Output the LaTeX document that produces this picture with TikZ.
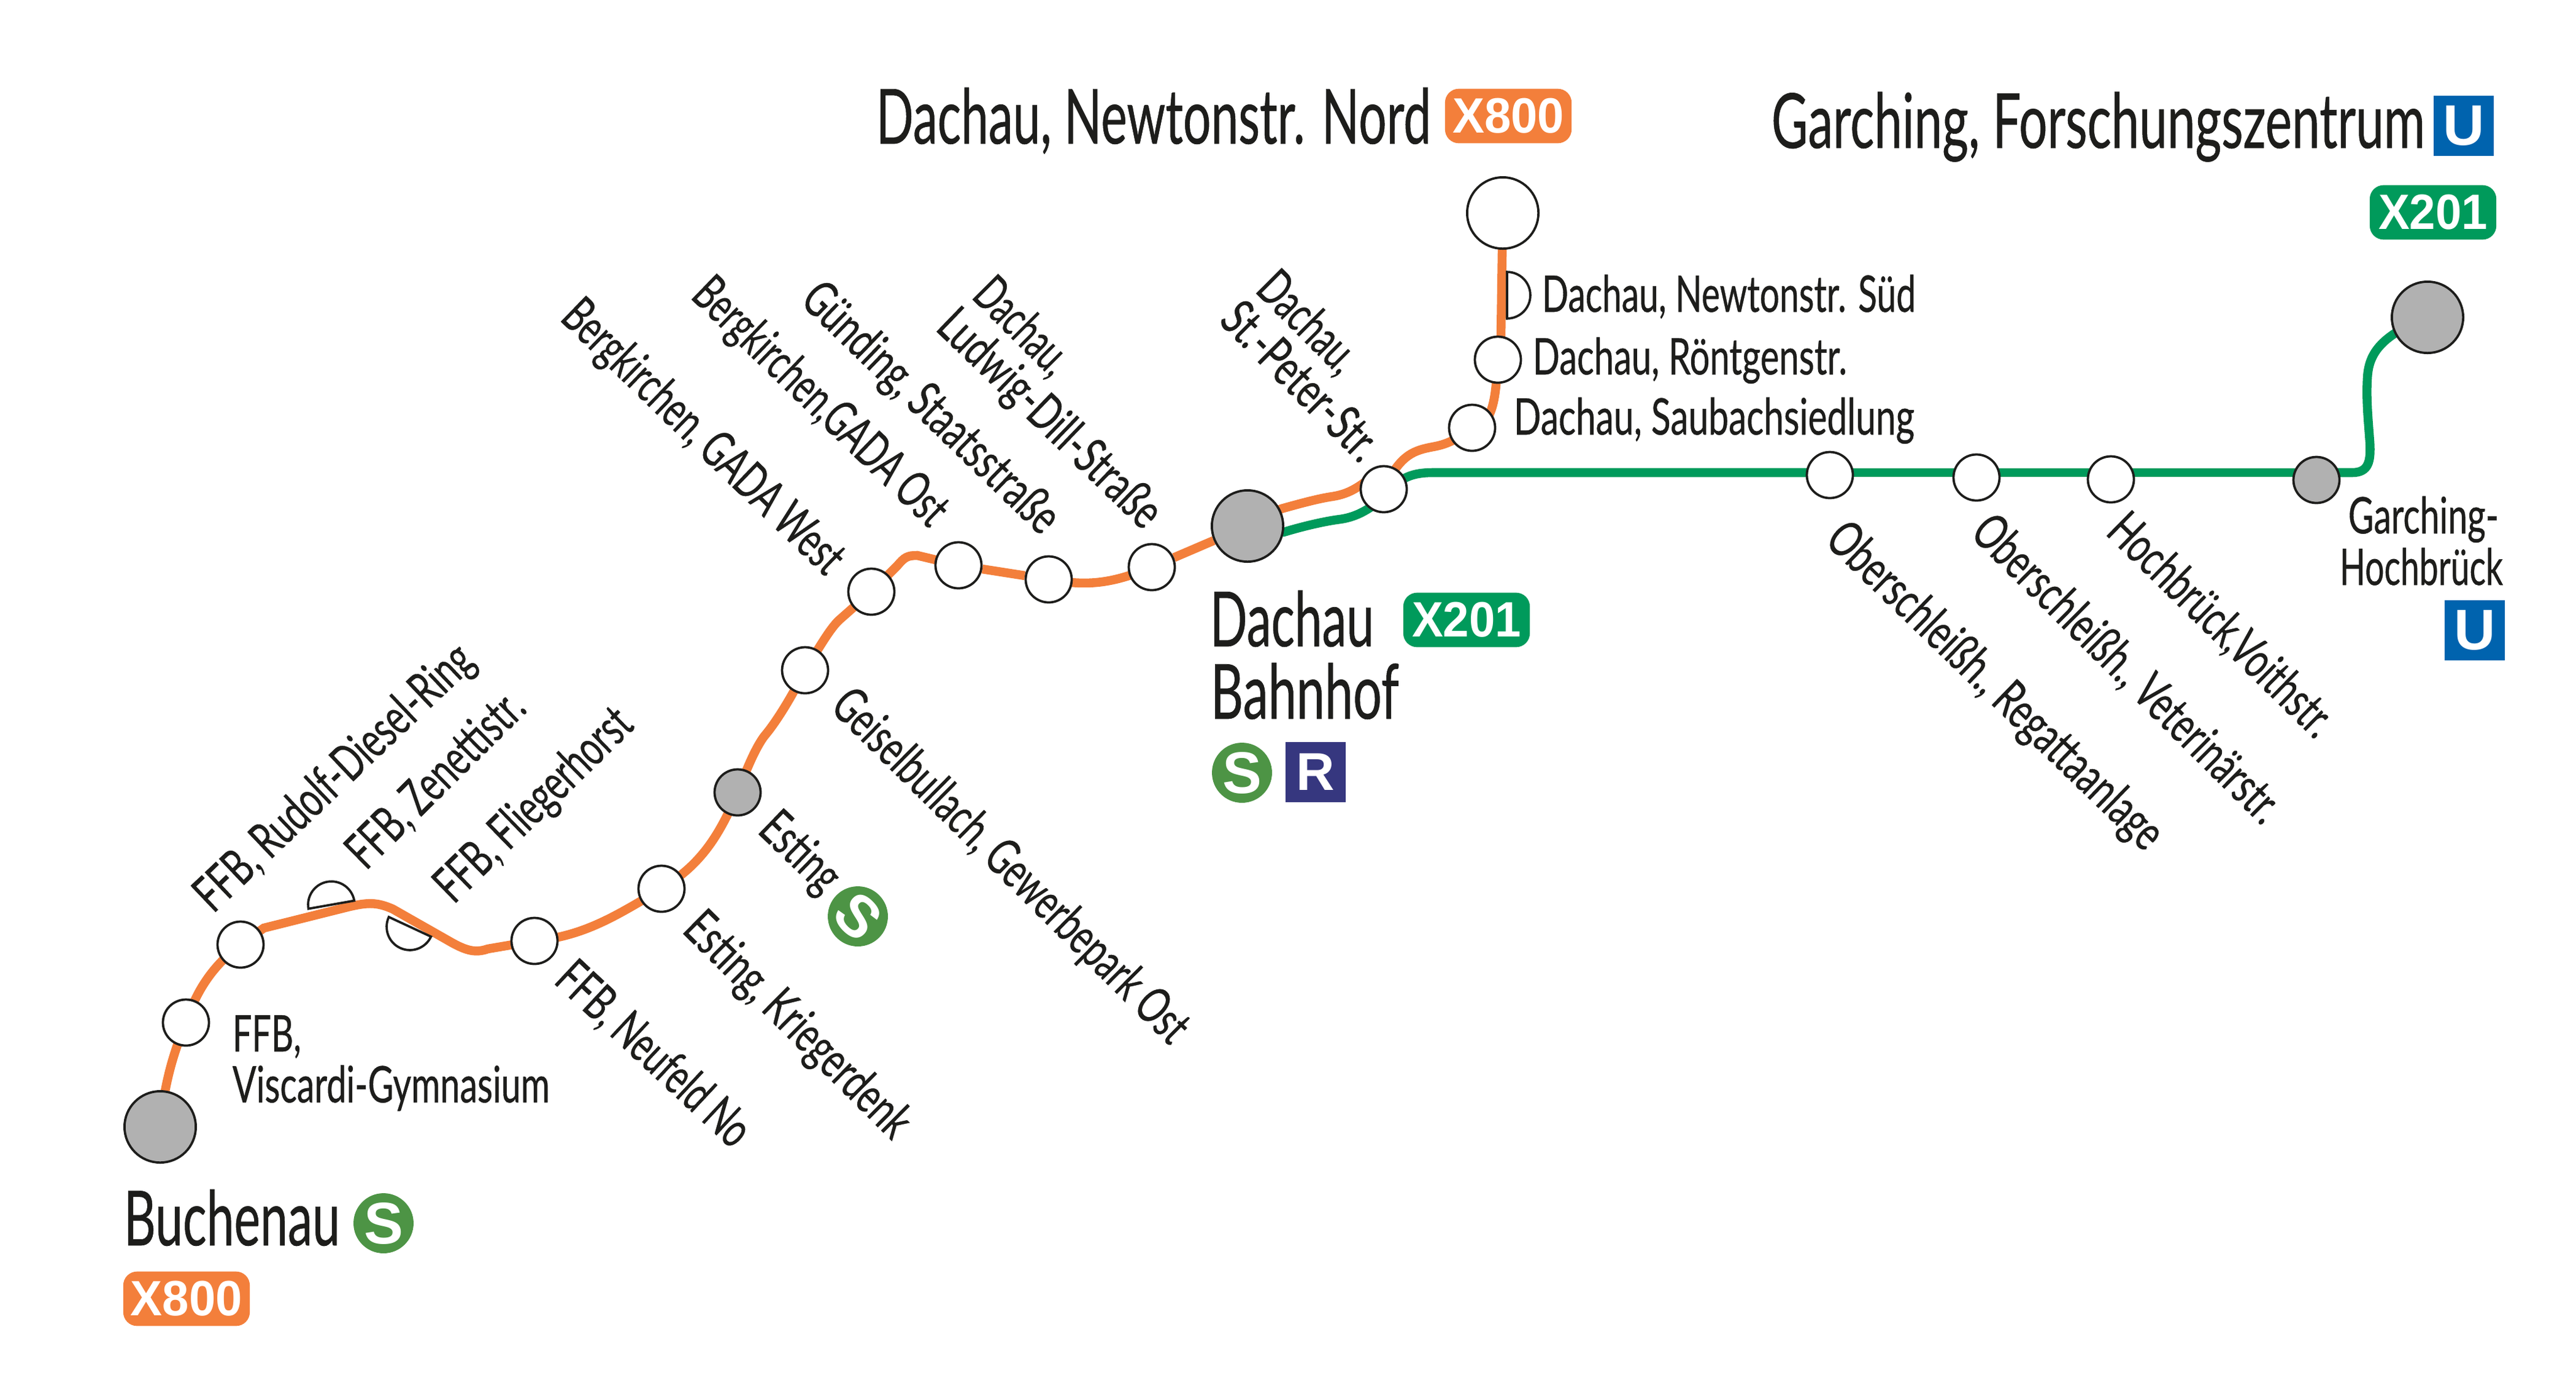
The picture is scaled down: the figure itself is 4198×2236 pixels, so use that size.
\documentclass[tikz,border=0pt]{standalone}
\usepackage{graphicx}
\usepackage{fontspec}
\setmainfont{Lato}[FakeBold=0.6]
\newfontfamily\badgefont{Liberation Sans}[BoldFont={Liberation Sans Bold}]
\usetikzlibrary{backgrounds}
\definecolor{lorange}{HTML}{F37F3B}
\definecolor{lgreen}{HTML}{009A5B}
\definecolor{sgreen}{HTML}{4D9445}
\definecolor{ublue}{HTML}{0063AE}
\definecolor{rblue}{HTML}{36377F}
\definecolor{stopgrey}{HTML}{B1B1B1}
\definecolor{ink}{HTML}{1D1D1B}
\newlength\pxu \setlength\pxu{0.24pt}
\tikzset{
  x=0.24pt,y=-0.24pt,
  stopw/.style={circle,draw=ink,fill=white,line width=0.9pt,inner sep=0pt,minimum size=18pt},
  stopg/.style={stopw,fill=stopgrey},
  termw/.style={stopw,minimum size=27.9pt},
  termg/.style={termw,fill=stopgrey},
  halfstop/.style={draw=ink,fill=white,line width=0.9pt},
  ol/.style={draw=lorange,line width=3.5pt},
  gl/.style={draw=lgreen,line width=3.5pt},
  lab/.style={anchor=base west,inner sep=0pt,text=ink,font=\fontsize{19.7pt}{20pt}\selectfont},
  bigl/.style={lab,font=\fontsize{29.7pt}{30pt}\selectfont},
  badge/.style={rectangle,rounded corners=5.4pt,inner sep=0pt,minimum width=49.5pt,minimum height=21.3pt,text=white,font=\badgefont\bfseries\fontsize{19.4pt}{20pt}\selectfont},
  xo/.style={badge,fill=lorange},
  xg/.style={badge,fill=lgreen},
  sbadge/.style={circle,fill=sgreen,inner sep=0pt,minimum size=23.5pt,text=white,font=\badgefont\bfseries\fontsize{23pt}{24pt}\selectfont},
  ubadge/.style={rectangle,fill=ublue,inner sep=0pt,minimum size=23.5pt,text=white,font=\badgefont\bfseries\fontsize{22.4pt}{23pt}\selectfont},
  rbadge/.style={rectangle,fill=rblue,inner sep=0pt,minimum size=23.5pt,text=white,font=\badgefont\bfseries\fontsize{20.8pt}{21pt}\selectfont},
}
\newcommand{\lbl}[7][lab]{\node[#1,rotate=#5] (#2) at (#3,#4) {\resizebox{#6\pxu}{\height}{#7}};}
\newcommand{\bdgtext}[2]{\resizebox{#1\pxu}{\height}{#2}}
\begin{document}
\begin{tikzpicture}
\useasboundingbox (0,0) rectangle (4198,2236);
% stops
\node[termg] (buch) at (261,1836) {};
\node[stopw] (visc) at (303,1666) {};
\node[stopw] (rudo) at (392,1539) {};
\coordinate (zene) at (540,1474);
\coordinate (flie) at (668,1510);
\node[stopw] (neuf) at (871,1533) {};
\node[stopw] (krie) at (1078,1448) {};
\node[stopg] (esti) at (1202,1291) {};
\node[stopw] (geis) at (1312,1092) {};
\node[stopw] (west) at (1420,964) {};
\node[stopw] (ost) at (1562,921) {};
\node[stopw] (guen) at (1709,944) {};
\node[stopw] (ludw) at (1877,924) {};
\node[termg] (dbf) at (2033,857) {};
\node[stopw] (spet) at (2255,797) {};
\node[stopw] (saub) at (2399,697) {};
\node[stopw] (roen) at (2441,586) {};
\coordinate (nsue) at (2456,481);
\node[termw] (nnor) at (2449,347) {};
\node[stopw] (rega) at (2982,774) {};
\node[stopw] (vete) at (3221,778) {};
\node[stopw] (voit) at (3440,781) {};
\node[stopg] (ghoc) at (3775,782) {};
\node[termg] (gfor) at (3956,517) {};
\coordinate (gy) at (0,770);
% half stops
\draw[halfstop] ([shift={(10:9.1pt)}]zene) arc[start angle=10,end angle=190,radius=9.1pt] -- cycle;
\draw[halfstop] ([shift={(155:9.1pt)}]flie) arc[start angle=155,end angle=335,radius=9.1pt] -- cycle;
\draw[halfstop] ([shift={(-90:9.1pt)}]nsue) arc[start angle=-90,end angle=90,radius=9.1pt] -- cycle;
% lines
\begin{scope}[on background layer]
\draw[ol] (buch.center) .. controls (268,1760) and (285,1710) .. (visc.center);
\draw[ol] (visc.center) .. controls (320,1615) and (345,1575) .. (rudo.center);
\draw[ol] (rudo.center) -- (430,1512) -- (570,1477) .. controls (600,1470) and (615,1470) .. (640,1481) -- (735,1535) .. controls (760,1549) and (775,1553) .. (795,1546) -- (neuf.center);
\draw[ol] (neuf.center) .. controls (950,1525) and (1000,1495) .. (krie.center);
\draw[ol] (krie.center) .. controls (1130,1415) and (1165,1380) .. (esti.center);
\draw[ol] (esti.center) .. controls (1220,1245) and (1232,1218) .. (1245,1200) .. controls (1262,1180) and (1285,1145) .. (geis.center);
\draw[ol] (geis.center) .. controls (1335,1055) and (1355,1020) .. (1370,1008) -- (west.center);
\draw[ol] (west.center) -- (1462,922) .. controls (1474,908) and (1478,905) .. (1495,905) -- (ost.center);
\draw[ol] (ost) -- (guen);
\draw[ol] (guen.center) .. controls (1770,955) and (1810,952) .. (ludw.center);
\draw[ol] (ludw) -- (dbf);
\draw[ol] (dbf.center) -- (2088,829) .. controls (2120,820) and (2150,812) .. (2171,809) .. controls (2190,806) and (2205,800) .. (2225,785) -- (spet.center);
\draw[ol] (spet.center) .. controls (2280,745) and (2300,735) .. (2330,729) .. controls (2345,726) and (2365,724) .. (saub.center);
\draw[ol] (saub.center) -- (2425,680) .. controls (2435,660) and (2438,640) .. (roen.center);
\draw[ol] (roen.center) -- (2446,547) -- (nnor.center);
\draw[gl] (dbf.center) -- (2092,867) .. controls (2125,857) and (2160,849) .. (2184,846) .. controls (2205,843) and (2222,835) .. (2240,822) -- (spet.center);
\draw[gl] (spet.center) .. controls (2285,785) and (2290,770) .. (2335,770) -- (rega |- gy);
\draw[gl] (rega |- gy) -- (vete |- gy);
\draw[gl] (vete |- gy) -- (voit |- gy);
\draw[gl] (voit |- gy) -- (ghoc |- gy);
\draw[gl] (ghoc |- gy) -- (3833,770) .. controls (3860,770) and (3864,752) .. (3862,720) .. controls (3859,680) and (3856,650) .. (3858,616) .. controls (3860,580) and (3875,548) .. (gfor.center);
\end{scope}
% large labels
\lbl[bigl]{tnord}{1427}{234}{0}{904}{Dachau, Newtonstr. Nord}
\lbl[bigl]{tgarch}{2886}{241}{0}{1065}{Garching, Forschungszentrum}
\lbl[bigl]{tbuch}{201}{2029}{0}{352}{Buchenau}
\lbl[bigl]{tdach}{1971}{1053}{0}{267}{Dachau}
\lbl[bigl]{tbahn}{1972}{1171}{0}{307}{Bahnhof}
% small horizontal labels
\lbl{tffb}{378}{1713}{0}{112}{FFB,}
\lbl{tvisc}{378}{1796}{0}{517}{Viscardi-Gymnasium}
\lbl{tsued}{2512}{508}{0}{609}{Dachau, Newtonstr. Süd}
\lbl{troen}{2497}{610}{0}{512}{Dachau, Röntgenstr.}
\lbl{tsaub}{2466}{708}{0}{653}{Dachau, Saubachsiedlung}
\lbl{tgh}{3826}{869}{0}{245}{Garching-}
\lbl{thb}{3812}{953}{0}{266}{Hochbrück}
% rotated labels
\lbl{twest}{910}{520}{-44}{604}{Bergkirchen, GADA West}
\lbl{tost}{1123}{484}{-44}{543}{Bergkirchen,GADA Ost}
\lbl{tguen}{1301}{492}{-44}{549}{Günding, Staatsstraße}
\lbl{tdl}{1581}{484}{-45}{186}{Dachau,}
\lbl{tludw}{1522}{536}{-44}{473}{Ludwig-Dill-Straße}
\lbl{tgeis}{1350}{1154}{-44.7}{782}{Geiselbullach, Gewerbepark Ost}
\lbl{testi}{1232}{1355}{-44}{149}{Esting}
\lbl{tkrie}{1109}{1517}{-44.8}{485}{Esting, Kriegerdenk}
\lbl{tneuf}{900}{1600}{-43}{400}{FFB, Neufeld No}
\lbl{trega}{2971}{883}{-44}{728}{Oberschleißh., Regattaanlage}
\lbl{tvete}{3208}{871}{-44.8}{674}{Oberschleißh., Veterinärstr.}
\lbl{tvoit}{3429}{869}{-44.4}{481}{Hochbrück,Voithstr.}
\lbl{tds}{2043}{474}{-45}{196}{Dachau,}
\lbl{tspet}{1984}{524}{-45}{328}{St.-Peter-Str.}
\lbl{trudo}{347}{1490}{43.5}{592}{FFB, Rudolf-Diesel-Ring}
\lbl{tzene}{596}{1420}{44.7}{372}{FFB, Zenettistr.}
\lbl{tflie}{739}{1475}{44.3}{414}{FFB, Fliegerhorst}
% badges
\node[xo] (bx1) at (2458,189) {\bdgtext{182}{X800}};
\node[xo] (bx2) at (304,2116) {\bdgtext{182}{X800}};
\node[xg] (bx3) at (2390,1010) {\bdgtext{178}{X201}};
\node[xg] (bx4) at (3965,346) {\bdgtext{178}{X201}};
\node[sbadge] (bs1) at (625,1993) {S};
\node[sbadge] (bs2) at (2024,1259) {S};
\node[sbadge,rotate=-45] (bs3) at (1398,1493) {S};
\node[rbadge] (br) at (2144,1258) {R};
\node[ubadge] (bu1) at (4015,205) {U};
\node[ubadge] (bu2) at (4033,1027) {U};
\end{tikzpicture}
\end{document}
